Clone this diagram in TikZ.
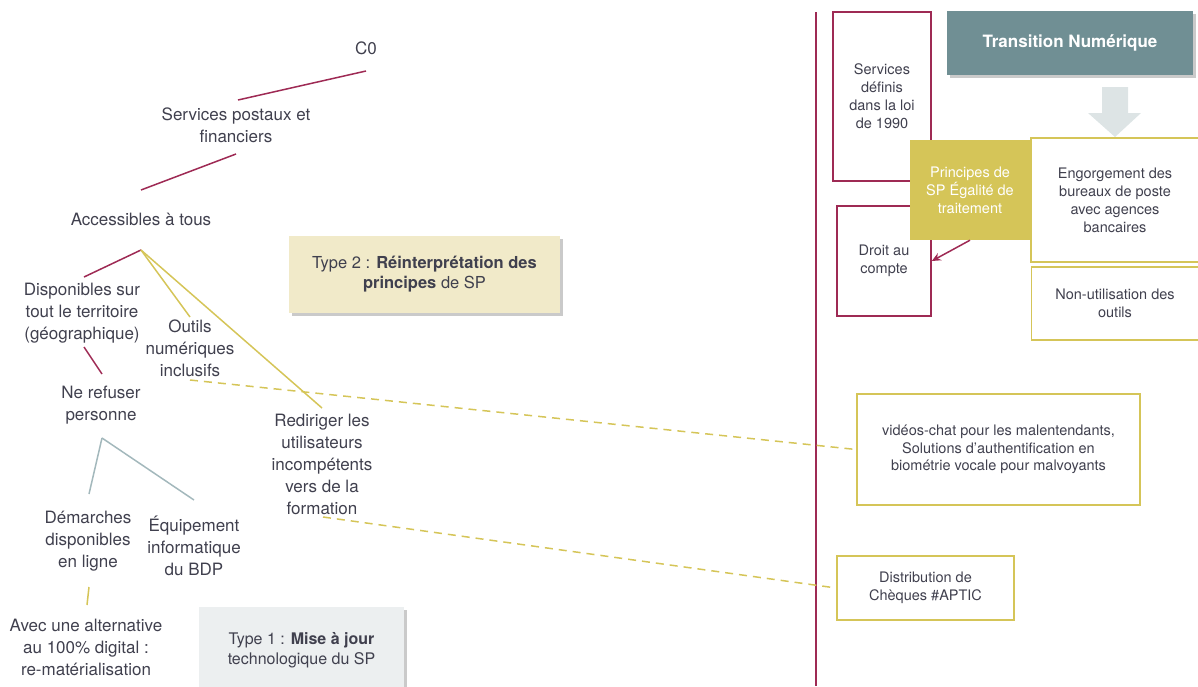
\documentclass[tikz,border=0pt]{standalone}
\usepackage{fontspec}
\setmainfont{TeX Gyre Heros}
\usepackage{tikz}
\usetikzlibrary{shadows,arrows.meta}

\definecolor{framboise}{RGB}{158,42,84}
\definecolor{moutarde}{RGB}{213,197,88}
\definecolor{ardoise}{RGB}{112,143,148}
\definecolor{brume}{RGB}{221,228,229}
\definecolor{sable}{RGB}{241,234,201}
\definecolor{perle}{RGB}{236,239,240}
\definecolor{bleugris}{RGB}{163,184,188}
\definecolor{encre}{RGB}{64,64,78}

\tikzset{
	lbl/.style={align=center, inner sep=0, text=encre, font=\fontsize{17}{22}\selectfont},
	petit/.style={align=center, inner sep=0, text=encre, font=\fontsize{14.5}{18}\selectfont},
	cadre/.style={petit, draw, line width=1.6pt, minimum width=#1},
	ombre/.style={drop shadow={shadow xshift=3pt, shadow yshift=-3pt, opacity=0.35, fill=black!60}},
}

\begin{document}
\begin{tikzpicture}[x=1pt, y=-1pt]
		\useasboundingbox (0,0) rectangle (1198,686);
		% 点の定義
		\coordinate (c0_bas) at (366,71);
		\coordinate (services_haut) at (238,100);
		\coordinate (services_bas) at (236,154);
		\coordinate (acces_haut) at (141,190);
		\coordinate (acces_bas) at (141,250);
		\coordinate (dispo_haut) at (84,277);
		\coordinate (outils_haut) at (190,317);
		\coordinate (rediriger_haut) at (322,408);
		\coordinate (dispo_bas) at (84,347);
		\coordinate (refuser_haut) at (102,374);
		\coordinate (refuser_bas) at (102,438);
		\coordinate (demarches_haut) at (89,494);
		\coordinate (equip_haut) at (194,500);
		\coordinate (demarches_bas) at (89,587);
		\coordinate (avec_haut) at (87,605);
		\coordinate (outils_bas) at (190,380);
		\coordinate (rediriger_bas) at (323,517);
		\coordinate (axe_haut) at (816,12);
		\coordinate (axe_bas) at (816,686);
		% 枠の描画
		\node[lbl, fill=sable, ombre, minimum width=271, minimum height=77, font=\fontsize{16.5}{20}\selectfont] (type2) at (424.5,274.5) {Type 2 : \textbf{Réinterprétation des}\\ \textbf{principes} de SP};
		\node[lbl, fill=perle, ombre, minimum width=205, minimum height=86, font=\fontsize{16}{20}\selectfont] (type1) at (301.5,650) {Type 1 : \textbf{Mise à jour}\\ technologique du SP};
		% 木の描画
		\node[lbl] (c0) at (366,48) {C0};
		\node[lbl] (services) at (236,125) {Services postaux et\\ financiers};
		\node[lbl] (acces) at (141,219) {Accessibles à tous};
		\node[lbl] (dispo) at (82,313) {Disponibles sur\\ tout le territoire\\ (géographique)};
		\node[lbl] (outils) at (190,348) {Outils\\ numériques\\ inclusifs};
		\node[lbl] (refuser) at (101,405) {Ne refuser\\ personne};
		\node[lbl] (rediriger) at (322,464) {Rediriger les\\ utilisateurs\\ incompétents\\ vers de la\\ formation};
		\node[lbl] (demarches) at (88,541) {Démarches\\ disponibles\\ en ligne};
		\node[lbl] (equip) at (194,546) {Équipement\\ informatique\\ du BDP};
		\node[lbl] (avec) at (86,647) {Avec une alternative\\ au 100\% digital :\\ re-matérialisation};
		% 線の描画
		\draw[framboise, line width=1.5pt] (c0_bas)--(services_haut);
		\draw[framboise, line width=1.5pt] (services_bas)--(acces_haut);
		\draw[framboise, line width=1.5pt] (acces_bas)--(dispo_haut);
		\draw[framboise, line width=1.5pt] (dispo_bas)--(refuser_haut);
		\draw[moutarde, line width=1.5pt] (acces_bas)--(outils_haut);
		\draw[moutarde, line width=1.5pt] (acces_bas)--(rediriger_haut);
		\draw[bleugris, line width=1.5pt] (refuser_bas)--(demarches_haut);
		\draw[bleugris, line width=1.5pt] (refuser_bas)--(equip_haut);
		\draw[moutarde, line width=1.5pt] (demarches_bas)--(avec_haut);
		% 右側の描画
		\draw[framboise, line width=2pt] (axe_haut)--(axe_bas);
		\node[cadre=98, framboise, text=encre, minimum height=169] (loi) at (882,96.5) {Services\\ définis\\ dans la loi\\ de 1990};
		\node[cadre=94, framboise, text=encre, minimum height=110] (compte) at (884,261) {Droit au\\ compte};
		\node[petit, fill=moutarde, text=white, minimum width=120, minimum height=100] (principes) at (970,190) {Principes de\\ SP Égalité de\\ traitement};
		\node[lbl, fill=ardoise, text=white, ombre, minimum width=246, minimum height=64, font=\fontsize{17}{22}\selectfont\bfseries] (transition) at (1070,43) {Transition Numérique};
		\fill[brume] (1102,87)--(1128,87)--(1128,113)--(1141,113)--(1115,137)--(1088,113)--(1102,113)--cycle;
		\node[cadre=168, moutarde, text=encre, minimum height=124] (engorgement) at (1115,200) {Engorgement des\\ bureaux de poste\\ avec agences\\ bancaires};
		\node[cadre=167, moutarde, text=encre, minimum height=73] (nonutil) at (1115,303.5) {Non-utilisation des\\ outils};
		\node[cadre=283, moutarde, text=encre, minimum height=111, font=\fontsize{14.5}{17.5}\selectfont] (videos) at (998.5,449.5) {vidéos-chat pour les malentendants,\\ Solutions d’authentification en\\ biométrie vocale pour malvoyants};
		\node[cadre=177, moutarde, text=encre, minimum height=64] (aptic) at (925.5,588) {Distribution de\\ Chèques \#APTIC};
		\draw[framboise, line width=1.5pt, -{Stealth[length=9pt,width=8pt]}] (principes.south)--(compte.east);
		% 破線の描画
		\draw[moutarde, line width=1.5pt, dash pattern=on 8pt off 6pt] (outils_bas)--(videos.west);
		\draw[moutarde, line width=1.5pt, dash pattern=on 8pt off 6pt] (rediriger_bas)--(aptic.west);
	\end{tikzpicture}
\end{document}
